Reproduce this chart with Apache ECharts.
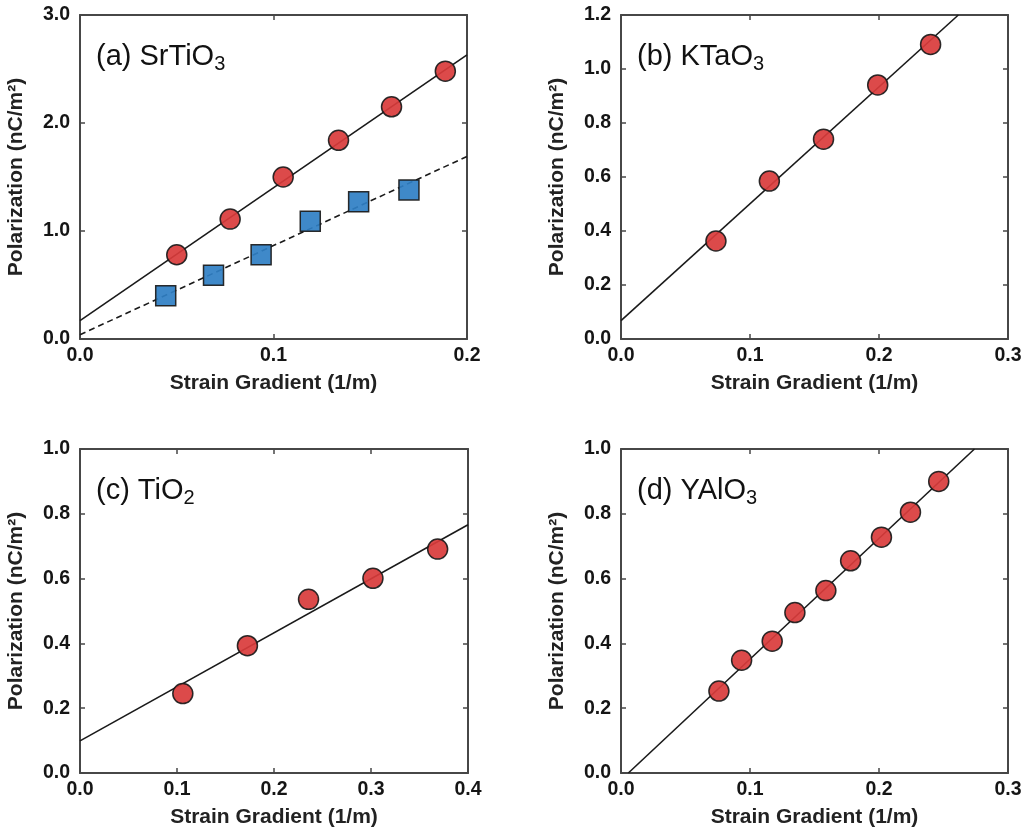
<!DOCTYPE html>
<html>
<head>
<meta charset="utf-8">
<script src="https://cdn.jsdelivr.net/npm/echarts@6/dist/echarts.min.js"></script>
<style>
  html, body { margin: 0; padding: 0; background: #fff; }
  #chartDiv { width: 1027px; height: 832px; }
</style>
</head>
<body>
<div id="chartDiv"></div>
<script>
// data
// (a) SrTiO3
let aStrainCircle = [0.050, 0.0776, 0.105, 0.1336, 0.161, 0.1888];
let aPolCircle = [0.78, 1.11, 1.50, 1.84, 2.15, 2.48];
let aStrainSquare = [0.0443, 0.069, 0.0936, 0.119, 0.144, 0.170];
let aPolSquare = [0.40, 0.59, 0.78, 1.09, 1.27, 1.38];
let aFitCircle = [[0, 0.17], [0.2, 2.63]];
let aFitSquare = [[0, 0.04], [0.2, 1.69]];
// (b) KTaO3
let bStrain = [0.0736, 0.115, 0.157, 0.199, 0.240];
let bPol = [0.363, 0.585, 0.740, 0.941, 1.091];
let bFit = [[0, 0.068], [0.2615, 1.2]];
// (c) TiO2
let cStrain = [0.106, 0.1726, 0.2356, 0.302, 0.3687];
let cPol = [0.245, 0.393, 0.536, 0.601, 0.691];
let cFit = [[0, 0.099], [0.4, 0.766]];
// (d) YAlO3
let dStrain = [0.0759, 0.0935, 0.1172, 0.1348, 0.1588, 0.178, 0.2019, 0.2244, 0.2463];
let dPol = [0.253, 0.348, 0.407, 0.495, 0.563, 0.655, 0.728, 0.805, 0.900];
let dFit = [[0.0057, 0], [0.274, 1.0]];

// axis ranges: [xMax, xStep, yMax, yStep]
let panelRanges = [
    [0.2, 0.1, 3.0, 1.0],
    [0.3, 0.1, 1.2, 0.2],
    [0.4, 0.1, 1.0, 0.2],
    [0.3, 0.1, 1.0, 0.2]
];
let panelTitles = ['(a) SrTiO{s|3}', '(b) KTaO{s|3}', '(c) TiO{s|2}', '(d) YAlO{s|3}'];

let myChart = echarts.init(document.getElementById('chartDiv'));

let grids = [
    {left: 80, top: 15, width: 387, height: 324},
    {left: 621, top: 15, width: 387, height: 324},
    {left: 80, top: 449, width: 388, height: 324},
    {left: 621, top: 449, width: 387, height: 324}
];

function $ext(a, b) { return Object.assign({}, a, b); }

let frameColor = '#474747';
let labelFont = {fontFamily: 'Liberation Sans', fontWeight: 'bold', fontSize: 19.5, color: '#151515'};
let nameFont = {fontFamily: 'Liberation Sans', fontWeight: 'bold', fontSize: 21, color: '#222'};

let xAxes = [], yAxes = [];
for (let i = 0; i < 4; i++) {
    let r = panelRanges[i];
    let base = {
        type: 'value', gridIndex: i, min: 0,
        splitLine: {show: false},
        axisLine: {show: true, onZero: false, lineStyle: {color: frameColor, width: 2}},
        axisTick: {show: true, inside: true, length: 5, lineStyle: {color: frameColor, width: 1.5}}
    };
    xAxes.push($ext(base, {
        position: 'bottom', max: r[0], interval: r[1],
        name: 'Strain Gradient (1/m)', nameLocation: 'middle', nameGap: 34,
        nameTextStyle: nameFont,
        axisLabel: $ext(labelFont, {margin: 7, formatter: v => v.toFixed(1)})
    }));
    xAxes.push($ext(base, {position: 'top', max: r[0], interval: r[1], axisLabel: {show: false}}));
    yAxes.push($ext(base, {
        position: 'left', max: r[2], interval: r[3],
        name: 'Polarization (nC/m²)', nameLocation: 'middle', nameGap: 53,
        nameTextStyle: nameFont,
        axisLabel: $ext(labelFont, {margin: 10, formatter: v => v.toFixed(1)})
    }));
    yAxes.push($ext(base, {position: 'right', max: r[2], interval: r[3], axisLabel: {show: false}}));
}

function zip(xs, ys) {
    let out = [];
    for (let i = 0; i < xs.length; i++) out.push([xs[i], ys[i]]);
    return out;
}

function fitLine(i, data, dashed) {
    return {
        type: 'line', xAxisIndex: 2 * i, yAxisIndex: 2 * i, data: data,
        symbol: 'none', silent: true, z: 2,
        lineStyle: {color: '#1a1a1a', width: 1.6, type: dashed ? [6, 4] : 'solid'}
    };
}

function dots(i, data, shape, color) {
    return {
        type: 'scatter', xAxisIndex: 2 * i, yAxisIndex: 2 * i, data: data,
        symbol: shape, symbolSize: shape === 'rect' ? 20 : 20, z: 3,
        itemStyle: {color: color, borderColor: '#1a1a1a', borderWidth: 1.5, opacity: 0.92}
    };
}

let red = '#d93b3b', blue = '#2f7fc4';
let series = [
    fitLine(0, aFitCircle, false),
    fitLine(0, aFitSquare, true),
    dots(0, zip(aStrainCircle, aPolCircle), 'circle', red),
    dots(0, zip(aStrainSquare, aPolSquare), 'rect', blue),
    fitLine(1, bFit, false),
    dots(1, zip(bStrain, bPol), 'circle', red),
    fitLine(2, cFit, false),
    dots(2, zip(cStrain, cPol), 'circle', red),
    fitLine(3, dFit, false),
    dots(3, zip(dStrain, dPol), 'circle', red)
];

let titles = [];
for (let i = 0; i < 4; i++) {
    titles.push({
        text: panelTitles[i],
        left: grids[i].left + 16,
        top: grids[i].top + 24,
        padding: 0,
        textStyle: {
            fontFamily: 'Liberation Sans', fontWeight: 'normal', fontSize: 29, color: '#111',
            rich: {s: {fontFamily: 'Liberation Sans', fontSize: 20, color: '#111', padding: [15, 0, 0, 0]}}
        }
    });
}

let option = {
    backgroundColor: '#fff',
    animation: false,
    title: titles,
    grid: grids,
    xAxis: xAxes,
    yAxis: yAxes,
    series: series
};
myChart.setOption(option);
</script>
</body>
</html>
